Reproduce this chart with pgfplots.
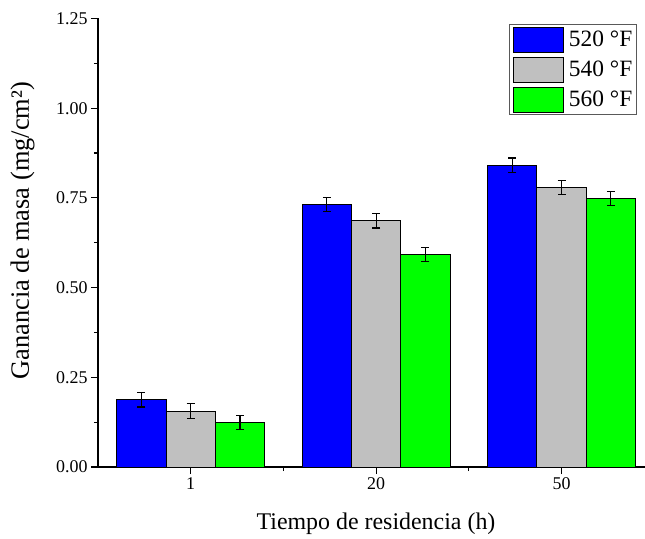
\documentclass[border=0pt]{standalone}
\usepackage{fontspec}
\setmainfont{Liberation Serif}
\usepackage{pgfplots}
\pgfplotsset{compat=1.18}
\definecolor{cblue}{RGB}{0,0,255}
\definecolor{cgray}{RGB}{192,192,192}
\definecolor{cgreen}{RGB}{0,255,0}
\begin{document}
\begin{tikzpicture}
\begin{axis}[
 scale only axis, width=547bp, height=448.5bp,
 xmin=-0.5, xmax=2.45, ymin=0, ymax=1.25,
 axis x line=bottom, axis y line=left,
 axis line style={-, line width=1.3bp, black},
 ybar=0pt, bar width=0.266,
 xtick={0,1,2}, xticklabels={1,20,50}, minor xtick={0.5,1.5},
 ytick={0,0.25,0.5,0.75,1,1.25}, minor ytick={0.125,0.375,0.625,0.875,1.125},
 yticklabel style={/pgf/number format/.cd, fixed, fixed zerofill, precision=2},
 /pgf/number format/assume math mode=true,
 tick align=outside, major tick length=7bp, minor tick length=4bp,
 tick style={line width=1.2bp, black},
 tick label style={font=\fontsize{18}{20}\selectfont},
 xlabel={Tiempo de residencia (h)},
 ylabel={Ganancia de masa (mg/cm²)},
 xlabel style={font=\fontsize{24}{26}\selectfont, at={(axis description cs:0.5,0)}, anchor=center, yshift=-57bp, xshift=4.5bp},
 ylabel style={font=\fontsize{26.5}{28}\selectfont, at={(axis description cs:-0.138,0.527)}, anchor=center},
 error bars/y dir=both, error bars/y explicit,
 error bars/error bar style={line width=1.2bp, black},
 error bars/error mark options={rotate=90, mark size=4bp, line width=1.2bp, black},
 legend image code/.code={\path (-1bp,0) (53bp,0); \draw[#1] (0bp,-12.5bp) rectangle (50bp,12.5bp);},
 legend style={at={(rel axis cs:0.985,0.987)}, anchor=north east,
   draw=black!65, line width=1bp, font=\fontsize{23.5}{25}\selectfont,
   inner sep=2bp, row sep=4bp, legend cell align=left},
 clip=false,
]
\addplot[fill=cblue, draw=black, line width=1bp]
 coordinates {(0,0.187) +- (0,0.02) (1,0.732) +- (0,0.02) (2,0.841) +- (0,0.02)};
\addplot[fill=cgray, draw=black, line width=1bp]
 coordinates {(0,0.156) +- (0,0.021) (1,0.686) +- (0,0.02) (2,0.779) +- (0,0.02)};
\addplot[fill=cgreen, draw=black, line width=1bp]
 coordinates {(0,0.124) +- (0,0.02) (1,0.592) +- (0,0.02) (2,0.748) +- (0,0.02)};
\legend{520 °F, 540 °F, 560 °F}
\end{axis}
\pgfresetboundingbox
\path[use as bounding box] ([shift={(-98bp,-71.5bp)}]current axis.south west) rectangle ([shift={(0bp,18.5bp)}]current axis.north east);
\end{tikzpicture}
\end{document}
